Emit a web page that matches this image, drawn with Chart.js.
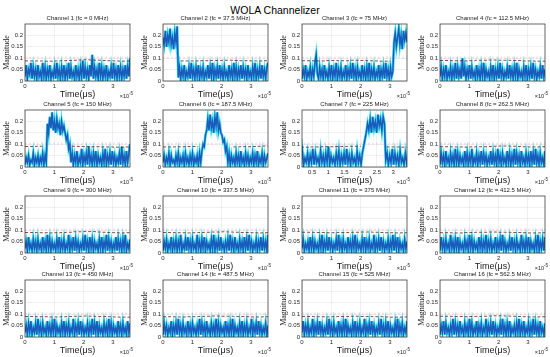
<!DOCTYPE html>
<html>
<head>
<meta charset="utf-8">
<script src="https://cdn.jsdelivr.net/npm/chart.js@4.4.1/dist/chart.umd.min.js"></script>
<style>
  body { margin: 0; background: #fff; }
  #fig { position: relative; width: 550px; height: 357px; overflow: hidden; }
  #fig h1 { position: absolute; top: 3px; left: 0; width: 550px; margin: 0; text-align: center;
            font: 10.5px "Liberation Sans", Arial, sans-serif; line-height: 14px; color: #000; font-weight: normal; }
  canvas { position: absolute; }
</style>
</head>
<body>
<div id="fig"><h1>WOLA Channelizer</h1></div>
<script>
// ---- data ----
const channelTitles = [
  "Channel 1 (fc = 0 MHz)", "Channel 2 (fc = 37.5 MHz)", "Channel 3 (fc = 75 MHz)", "Channel 4 (fc = 112.5 MHz)",
  "Channel 5 (fc = 150 MHz)", "Channel 6 (fc = 187.5 MHz)", "Channel 7 (fc = 225 MHz)", "Channel 8 (fc = 262.5 MHz)",
  "Channel 9 (fc = 300 MHz)", "Channel 10 (fc = 337.5 MHz)", "Channel 11 (fc = 375 MHz)", "Channel 12 (fc = 412.5 MHz)",
  "Channel 13 (fc = 450 MHz)", "Channel 14 (fc = 487.5 MHz)", "Channel 15 (fc = 525 MHz)", "Channel 16 (fc = 562.5 MHz)"
];
const yTicks = [0, 0.05, 0.1, 0.15, 0.2];
const xTicks = [0, 1, 2, 3];
const xTicksCh7 = [0.5, 1, 1.5, 2, 2.5, 3];
const timeSpan = 3.58;          // x10^-5
const thresholdTimes = [0, 0.2, 0.4, 0.6, 0.8, 1, 1.2, 1.4, 1.6, 1.8, 2, 2.2, 2.4, 2.6, 2.8, 3, 3.2, 3.4, 3.6];
const upperLimit = 0.102;

const ch1 = [0.02,0.07,0.01,0.05,0.03,0.08,0.01,0.06,0.02,0.05, 0.01,0.07,0.02,0.04,0.01,0.08,0.02,0.06,0.01,0.05,
  0.02,0.07,0.01,0.04,0.02,0.06,0.01,0.08,0.02,0.05, 0.01,0.06,0.02,0.07,0.01,0.05,0.02,0.08,0.01,0.06,
  0.02,0.04,0.01,0.07,0.02,0.05,0.01,0.06,0.02,0.09, 0.01,0.06,0.02,0.05,0.01,0.07,0.02,0.115,0.01,0.06,
  0.02,0.05,0.01,0.08,0.02,0.06,0.01,0.05,0.02,0.07, 0.01,0.04,0.02,0.06,0.01,0.08,0.02,0.05,0.01,0.07,
  0.02,0.06,0.01,0.05,0.02,0.07,0.01,0.06,0.02,0.10];
const ch2 = [0.19,0.16,0.22,0.15,0.20,0.17,0.23,0.16,0.19,0.14, 0.21,0.17,0.24,0.015,0.06,0.01,0.05,0.02,0.07,0.01,
  0.04,0.02,0.06,0.01,0.08,0.02,0.05,0.01,0.06,0.02, 0.07,0.01,0.05,0.02,0.06,0.01,0.04,0.02,0.07,0.01,
  0.06,0.02,0.08,0.01,0.05,0.02,0.06,0.01,0.07,0.02, 0.05,0.01,0.06,0.02,0.04,0.01,0.07,0.02,0.05,0.01,
  0.08,0.02,0.06,0.01,0.05,0.02,0.07,0.01,0.06,0.02, 0.05,0.01,0.07,0.02,0.04,0.01,0.06,0.02,0.08,0.01,
  0.05,0.02,0.06,0.01,0.07,0.02,0.05,0.01,0.06,0.08];
const ch3 = [0.01,0.05,0.02,0.07,0.01,0.04,0.02,0.06,0.01,0.05, 0.02,0.08,0.115,0.03,0.01,0.06,0.02,0.05,0.01,0.07,
  0.02,0.04,0.01,0.06,0.02,0.07,0.01,0.05,0.02,0.08, 0.01,0.05,0.02,0.06,0.01,0.04,0.02,0.07,0.01,0.05,
  0.02,0.06,0.01,0.08,0.02,0.05,0.01,0.06,0.02,0.04, 0.01,0.07,0.02,0.05,0.01,0.06,0.02,0.08,0.01,0.05,
  0.02,0.06,0.01,0.04,0.02,0.07,0.01,0.05,0.02,0.06, 0.01,0.08,0.02,0.05,0.01,0.06,0.02,0.04,0.17,0.21,
  0.15,0.19,0.23,0.16,0.20,0.14,0.22,0.18,0.21,0.17];
const ch4 = [0.02,0.06,0.01,0.05,0.02,0.07,0.01,0.04,0.02,0.06, 0.01,0.05,0.02,0.08,0.01,0.06,0.02,0.05,0.01,0.10,
  0.02,0.06,0.01,0.05,0.02,0.07,0.01,0.06,0.02,0.04, 0.01,0.07,0.02,0.05,0.01,0.06,0.02,0.08,0.01,0.05,
  0.02,0.04,0.01,0.06,0.02,0.07,0.01,0.05,0.02,0.06, 0.01,0.08,0.02,0.05,0.01,0.04,0.02,0.06,0.01,0.07,
  0.02,0.05,0.01,0.06,0.02,0.08,0.01,0.05,0.02,0.04, 0.01,0.06,0.02,0.07,0.01,0.05,0.02,0.06,0.01,0.08,
  0.02,0.05,0.01,0.04,0.02,0.06,0.01,0.07,0.02,0.05];
const ch5 = [0.01,0.04,0.02,0.05,0.01,0.03,0.02,0.06,0.01,0.04, 0.02,0.05,0.01,0.04,0.02,0.06,0.01,0.05,0.02,0.19,
  0.15,0.22,0.17,0.24,0.16,0.20,0.15,0.21,0.17,0.19, 0.14,0.20,0.16,0.18,0.15,0.12,0.14,0.08,0.10,0.02,
  0.06,0.01,0.05,0.02,0.07,0.01,0.04,0.02,0.08,0.01, 0.05,0.02,0.06,0.01,0.09,0.02,0.05,0.01,0.06,0.02,
  0.07,0.01,0.05,0.02,0.04,0.01,0.06,0.02,0.08,0.01, 0.05,0.02,0.06,0.01,0.07,0.02,0.05,0.01,0.04,0.02,
  0.06,0.01,0.09,0.02,0.05,0.01,0.07,0.02,0.06,0.10];
const ch6 = [0.02,0.05,0.01,0.04,0.02,0.06,0.01,0.05,0.02,0.03, 0.01,0.05,0.02,0.06,0.01,0.04,0.02,0.05,0.01,0.06,
  0.02,0.04,0.01,0.05,0.02,0.06,0.01,0.04,0.02,0.05, 0.01,0.06,0.02,0.07,0.10,0.09,0.14,0.16,0.21,0.16,
  0.23,0.17,0.20,0.15,0.22,0.18,0.24,0.16,0.19,0.15, 0.14,0.11,0.12,0.07,0.09,0.02,0.06,0.01,0.05,0.02,
  0.04,0.01,0.06,0.02,0.05,0.01,0.07,0.02,0.04,0.01, 0.06,0.02,0.05,0.01,0.04,0.02,0.06,0.01,0.05,0.02,
  0.07,0.01,0.04,0.02,0.06,0.01,0.05,0.02,0.04,0.06];
const ch7 = [0.02,0.06,0.01,0.05,0.02,0.07,0.01,0.04,0.02,0.06, 0.01,0.05,0.02,0.08,0.01,0.06,0.02,0.04,0.01,0.07,
  0.02,0.05,0.01,0.06,0.02,0.09,0.01,0.05,0.02,0.04, 0.01,0.06,0.02,0.07,0.01,0.05,0.02,0.06,0.01,0.08,
  0.02,0.05,0.01,0.06,0.02,0.04,0.01,0.07,0.02,0.05, 0.01,0.06,0.09,0.12,0.15,0.19,0.16,0.21,0.15,0.22,
  0.17,0.20,0.15,0.23,0.18,0.21,0.16,0.22,0.19,0.03, 0.06,0.01,0.05,0.02,0.08,0.01,0.06,0.02,0.05,0.01,
  0.07,0.02,0.04,0.01,0.06,0.02,0.05,0.01,0.07,0.04];
const ch8 = [0.01,0.06,0.02,0.05,0.01,0.07,0.02,0.04,0.01,0.06, 0.02,0.05,0.01,0.08,0.02,0.06,0.01,0.05,0.02,0.04,
  0.01,0.07,0.02,0.06,0.01,0.05,0.02,0.08,0.01,0.04, 0.02,0.06,0.01,0.05,0.02,0.07,0.01,0.06,0.02,0.05,
  0.01,0.04,0.02,0.07,0.01,0.06,0.02,0.05,0.01,0.08, 0.02,0.05,0.01,0.06,0.02,0.04,0.01,0.07,0.02,0.06,
  0.01,0.05,0.02,0.08,0.01,0.06,0.02,0.05,0.01,0.07, 0.02,0.04,0.01,0.06,0.02,0.05,0.01,0.07,0.02,0.06,
  0.01,0.08,0.02,0.05,0.01,0.06,0.02,0.04,0.01,0.07];
const ch9 = [0.02,0.05,0.01,0.07,0.02,0.04,0.01,0.06,0.02,0.05, 0.01,0.06,0.02,0.04,0.01,0.07,0.02,0.05,0.01,0.08,
  0.02,0.06,0.01,0.05,0.02,0.04,0.01,0.06,0.02,0.07, 0.01,0.05,0.02,0.06,0.01,0.04,0.02,0.08,0.01,0.05,
  0.02,0.07,0.01,0.06,0.02,0.05,0.01,0.04,0.02,0.06, 0.01,0.08,0.02,0.05,0.01,0.07,0.02,0.06,0.01,0.05,
  0.02,0.04,0.01,0.06,0.02,0.07,0.01,0.05,0.02,0.08, 0.01,0.06,0.02,0.05,0.01,0.04,0.02,0.07,0.01,0.06,
  0.02,0.05,0.01,0.06,0.02,0.08,0.01,0.04,0.02,0.06];
const ch10 = [0.01,0.05,0.02,0.06,0.01,0.04,0.02,0.07,0.01,0.05, 0.02,0.06,0.01,0.05,0.02,0.08,0.01,0.04,0.02,0.06,
  0.01,0.07,0.02,0.05,0.01,0.06,0.02,0.04,0.01,0.08, 0.02,0.05,0.01,0.06,0.02,0.07,0.01,0.05,0.02,0.04,
  0.01,0.06,0.02,0.08,0.01,0.05,0.02,0.06,0.01,0.07, 0.02,0.04,0.01,0.05,0.02,0.06,0.01,0.08,0.02,0.05,
  0.01,0.07,0.02,0.04,0.01,0.06,0.02,0.05,0.01,0.07, 0.02,0.06,0.01,0.08,0.02,0.05,0.01,0.04,0.02,0.06,
  0.01,0.05,0.02,0.07,0.01,0.06,0.02,0.05,0.01,0.08];
const ch11 = [0.02,0.06,0.01,0.04,0.02,0.05,0.01,0.07,0.02,0.06, 0.01,0.05,0.02,0.04,0.01,0.06,0.02,0.08,0.01,0.05,
  0.02,0.06,0.01,0.07,0.02,0.05,0.01,0.04,0.02,0.06, 0.01,0.08,0.02,0.05,0.01,0.06,0.02,0.04,0.01,0.07,
  0.02,0.05,0.01,0.06,0.02,0.08,0.01,0.05,0.02,0.04, 0.01,0.06,0.02,0.07,0.01,0.05,0.02,0.06,0.01,0.04,
  0.02,0.08,0.01,0.05,0.02,0.06,0.01,0.07,0.02,0.05, 0.01,0.04,0.02,0.06,0.01,0.05,0.02,0.08,0.01,0.06,
  0.02,0.07,0.01,0.05,0.02,0.04,0.01,0.06,0.02,0.05];
const ch12 = [0.01,0.07,0.02,0.05,0.01,0.06,0.02,0.04,0.01,0.08, 0.02,0.05,0.01,0.06,0.02,0.07,0.01,0.05,0.02,0.04,
  0.01,0.06,0.02,0.05,0.01,0.08,0.02,0.06,0.01,0.05, 0.02,0.04,0.01,0.07,0.02,0.06,0.01,0.05,0.02,0.08,
  0.01,0.05,0.02,0.06,0.01,0.04,0.02,0.07,0.01,0.05, 0.02,0.06,0.01,0.08,0.02,0.05,0.01,0.04,0.02,0.06,
  0.01,0.07,0.02,0.05,0.01,0.06,0.02,0.04,0.01,0.08, 0.02,0.05,0.01,0.06,0.02,0.07,0.01,0.05,0.02,0.04,
  0.01,0.06,0.02,0.08,0.01,0.05,0.02,0.06,0.01,0.07];
const ch13 = [0.02,0.05,0.01,0.06,0.02,0.07,0.01,0.04,0.02,0.06, 0.01,0.08,0.02,0.05,0.01,0.06,0.02,0.04,0.01,0.07,
  0.02,0.05,0.01,0.06,0.02,0.08,0.01,0.05,0.02,0.04, 0.01,0.06,0.02,0.07,0.01,0.05,0.02,0.06,0.01,0.04,
  0.02,0.08,0.01,0.05,0.02,0.06,0.01,0.07,0.02,0.05, 0.01,0.04,0.02,0.06,0.01,0.05,0.02,0.08,0.01,0.06,
  0.02,0.07,0.01,0.05,0.02,0.04,0.01,0.06,0.02,0.05, 0.01,0.08,0.02,0.06,0.01,0.05,0.02,0.04,0.01,0.07,
  0.02,0.05,0.01,0.06,0.02,0.04,0.01,0.07,0.02,0.06];
const ch14 = [0.01,0.06,0.02,0.05,0.01,0.04,0.02,0.07,0.01,0.05, 0.02,0.06,0.01,0.08,0.02,0.05,0.01,0.06,0.02,0.04,
  0.01,0.07,0.02,0.05,0.01,0.06,0.02,0.04,0.01,0.05, 0.02,0.08,0.01,0.06,0.02,0.05,0.01,0.07,0.02,0.04,
  0.01,0.06,0.02,0.05,0.01,0.08,0.02,0.06,0.01,0.05, 0.02,0.04,0.01,0.07,0.02,0.05,0.01,0.06,0.02,0.08,
  0.01,0.05,0.02,0.04,0.01,0.06,0.02,0.07,0.01,0.05, 0.02,0.06,0.01,0.04,0.02,0.08,0.01,0.05,0.02,0.06,
  0.01,0.07,0.02,0.05,0.01,0.04,0.02,0.06,0.01,0.05];
const ch15 = [0.02,0.07,0.01,0.05,0.02,0.06,0.01,0.04,0.02,0.08, 0.01,0.05,0.02,0.06,0.01,0.07,0.02,0.05,0.01,0.04,
  0.02,0.06,0.01,0.08,0.02,0.05,0.01,0.06,0.02,0.04, 0.01,0.07,0.02,0.05,0.01,0.06,0.02,0.08,0.01,0.05,
  0.02,0.04,0.01,0.06,0.02,0.07,0.01,0.05,0.02,0.06, 0.01,0.04,0.02,0.08,0.01,0.05,0.02,0.06,0.01,0.07,
  0.02,0.05,0.01,0.04,0.02,0.06,0.01,0.08,0.02,0.05, 0.01,0.06,0.02,0.07,0.01,0.05,0.02,0.04,0.01,0.06,
  0.02,0.08,0.01,0.05,0.02,0.06,0.01,0.04,0.02,0.07];
const ch16 = [0.01,0.05,0.02,0.07,0.01,0.06,0.02,0.04,0.01,0.05, 0.02,0.08,0.01,0.06,0.02,0.05,0.01,0.07,0.02,0.04,
  0.01,0.06,0.02,0.05,0.01,0.08,0.02,0.06,0.01,0.04, 0.02,0.07,0.01,0.05,0.02,0.06,0.01,0.04,0.02,0.08,
  0.01,0.05,0.02,0.06,0.01,0.07,0.02,0.05,0.01,0.04, 0.02,0.06,0.01,0.08,0.02,0.05,0.01,0.06,0.02,0.07,
  0.01,0.04,0.02,0.05,0.01,0.06,0.02,0.08,0.01,0.05, 0.02,0.07,0.01,0.04,0.02,0.06,0.01,0.05,0.02,0.08,
  0.01,0.06,0.02,0.05,0.01,0.07,0.02,0.04,0.01,0.06];

// detection threshold (null while a burst is present)
const thr1  = [0.088,0.088,0.088,0.087,0.087,0.088,0.089,0.090,0.091,0.092,0.093,0.092,0.091,0.090,0.089,0.088,0.087,0.088,0.090];
const thr2  = [null,null,null,0.088,0.088,0.088,0.089,0.089,0.090,0.090,0.091,0.091,0.090,0.089,0.089,0.088,0.088,0.089,0.091];
const thr3  = [0.089,0.089,0.088,0.088,0.090,0.090,0.089,0.089,0.091,0.091,0.090,0.089,0.088,0.087,0.087,0.086,null,null,null];
const thr4  = [0.090,0.090,0.089,0.089,0.088,0.089,0.091,0.091,0.092,0.092,0.091,0.091,0.090,0.090,0.088,0.088,0.087,0.087,0.089];
const thr5  = [0.090,0.090,0.091,0.091,null,null,null,null,0.091,0.090,0.090,0.089,0.089,0.088,0.088,0.087,0.087,0.088,0.088];
const thr6  = [0.088,0.088,0.089,0.089,0.090,0.090,0.091,null,null,null,null,null,0.088,0.089,0.089,0.090,0.091,0.092,0.093];
const thr7  = [0.087,0.087,0.088,0.088,0.089,0.089,0.090,0.090,0.091,0.091,0.090,null,null,null,0.088,0.088,0.087,0.087,0.088];
const thr8  = [0.089,0.089,0.088,0.088,0.087,0.088,0.089,0.089,0.090,0.091,0.092,0.092,0.091,0.090,0.089,0.088,0.088,0.089,0.090];
const thr9  = [0.090,0.090,0.089,0.089,0.088,0.089,0.090,0.091,0.093,0.093,0.094,0.094,0.092,0.091,0.090,0.089,0.088,0.089,0.091];
const thr10 = [0.090,0.090,0.089,0.089,0.088,0.089,0.090,0.091,0.092,0.092,0.093,0.092,0.091,0.090,0.090,0.089,0.088,0.089,0.092];
const thr11 = [0.091,0.091,0.090,0.090,0.089,0.089,0.090,0.090,0.091,0.091,0.092,0.092,0.091,0.090,0.089,0.089,0.088,0.089,0.090];
const thr12 = [0.089,0.089,0.088,0.088,0.090,0.090,0.091,0.091,0.092,0.092,0.091,0.091,0.090,0.090,0.089,0.088,0.088,0.089,0.091];
const thr13 = [0.090,0.090,0.089,0.089,0.088,0.088,0.089,0.090,0.091,0.091,0.092,0.091,0.090,0.090,0.089,0.088,0.087,0.087,0.088];
const thr14 = [0.089,0.089,0.088,0.088,0.089,0.089,0.090,0.091,0.092,0.092,0.091,0.091,0.090,0.090,0.089,0.088,0.088,0.089,0.090];
const thr15 = [0.090,0.090,0.089,0.089,0.088,0.089,0.090,0.090,0.091,0.091,0.090,0.090,0.089,0.089,0.088,0.087,0.087,0.088,0.089];
const thr16 = [0.091,0.091,0.090,0.090,0.089,0.090,0.090,0.091,0.092,0.093,0.093,0.092,0.091,0.090,0.089,0.088,0.088,0.089,0.092];

const magnitudes = [ch1, ch2, ch3, ch4, ch5, ch6, ch7, ch8, ch9, ch10, ch11, ch12, ch13, ch14, ch15, ch16];
const thresholds = [thr1, thr2, thr3, thr4, thr5, thr6, thr7, thr8, thr9, thr10, thr11, thr12, thr13, thr14, thr15, thr16];

// ---- layout ----
const colLeft = [25, 163, 302, 440];
const rowTop = [24, 110, 196, 280];
const plotW = 105, plotH = 57;
const padTop = 12, axisW = 25, axisH = 20, padRight = 5;

const FONT = '"Liberation Sans", Arial, sans-serif';

// box, channel title, axis labels and the x10^-5 exponent
const figureText = {
  id: "figureText",
  afterDraw(chart, args, opts) {
    const { ctx, chartArea: a } = chart;
    const cx = (a.left + a.right) / 2;
    ctx.save();
    ctx.strokeStyle = "#262626";
    ctx.lineWidth = 0.7;
    ctx.strokeRect(a.left, a.top, a.width, a.height);

    ctx.fillStyle = "#1a1a1a";
    ctx.textAlign = "center";
    ctx.textBaseline = "middle";
    ctx.font = "6px " + FONT;
    ctx.fillText(opts.title, cx, a.top - 6);

    ctx.font = "9px " + FONT;
    ctx.fillText("Time(\u03bcs)", cx, a.bottom + 14);

    ctx.textAlign = "right";
    ctx.font = "4.5px " + FONT;
    ctx.fillText("-5", a.right + 3, a.bottom + 12.5);
    const supW = ctx.measureText("-5").width;
    ctx.font = "5.5px " + FONT;
    ctx.fillText("\u00d710", a.right + 3 - supW, a.bottom + 15);

    ctx.translate(6.5, (a.top + a.bottom) / 2);
    ctx.rotate(-Math.PI / 2);
    ctx.textAlign = "center";
    ctx.font = '8px "Liberation Serif", "Times New Roman", serif';
    ctx.fillText("Magnitude", 0, 0);
    ctx.restore();
  }
};

const fig = document.getElementById("fig");

magnitudes.forEach((mag, k) => {
  const r = Math.floor(k / 4), c = k % 4;
  const canvas = document.createElement("canvas");
  canvas.width = axisW + plotW + padRight;
  canvas.height = padTop + plotH + axisH;
  canvas.style.left = (colLeft[c] - axisW) + "px";
  canvas.style.top = (rowTop[r] - padTop) + "px";
  fig.appendChild(canvas);

  const step = timeSpan / (mag.length - 1);
  const points = mag.map((v, i) => ({ x: i * step, y: v }));
  const thr = thresholds[k].map((v, i) => ({ x: thresholdTimes[i], y: v }));
  const isCh7 = k === 6;
  const ticksX = isCh7 ? xTicksCh7 : xTicks;

  new Chart(canvas, {
    type: "line",
    data: {
      datasets: [
        { data: thr, borderColor: "#4a2820", borderWidth: 0.8, borderDash: [3, 2], stepped: true, spanGaps: false, order: 0 },
        { data: [{ x: 0, y: upperLimit }, { x: 4, y: upperLimit }], borderColor: "rgba(255,110,140,0.22)", borderWidth: 2, borderDash: [2, 2], order: 3 },
        { data: points, borderColor: "#1a5cbc", borderWidth: 1.5, order: 1 },
        { data: points, borderColor: "#45e2f2", borderWidth: 2.8, order: 2 }
      ]
    },
    options: {
      responsive: false,
      animation: false,
      events: [],
      layout: { padding: { top: padTop, right: padRight, left: 0, bottom: 0 } },
      elements: { point: { radius: 0 }, line: { tension: 0 } },
      plugins: {
        legend: { display: false },
        tooltip: { enabled: false },
        figureText: { title: channelTitles[k] }
      },
      scales: {
        x: {
          type: "linear",
          min: isCh7 ? 0.19 : 0,
          max: isCh7 ? 3.43 : timeSpan,
          afterBuildTicks: s => { s.ticks = ticksX.map(v => ({ value: v })); },
          afterFit: s => { s.height = axisH; },
          grid: { color: "#e4e4e4", lineWidth: 0.6, drawTicks: false },
          border: { display: false },
          ticks: { font: { size: 6, family: FONT }, color: "#262626", padding: 2, maxRotation: 0, autoSkip: false, callback: v => String(v) }
        },
        y: {
          min: 0,
          max: 0.25,
          afterBuildTicks: s => { s.ticks = yTicks.map(v => ({ value: v })); },
          afterFit: s => { s.width = axisW; },
          grid: { color: "#e4e4e4", lineWidth: 0.6, drawTicks: false },
          border: { display: false },
          ticks: { font: { size: 6, family: FONT }, color: "#262626", padding: 2, autoSkip: false, callback: v => String(v) }
        }
      }
    },
    plugins: [figureText]
  });
});
</script>
</body>
</html>
